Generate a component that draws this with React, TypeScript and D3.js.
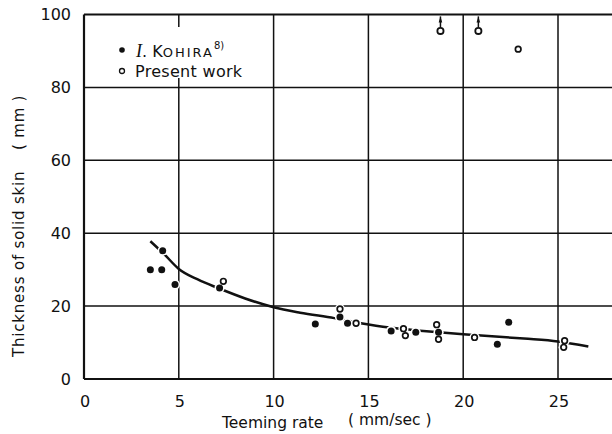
import React from "react";
import * as d3 from "d3";

const xTicks = [0, 5, 10, 15, 20, 25];
const yTicks = [0, 20, 40, 60, 80, 100];

// I. Kohira (filled dots)
const kohiraX = [3.5, 4.1, 4.15, 4.8, 7.15, 12.2, 13.5, 13.9, 16.2, 17.5, 18.7, 21.8, 22.4];
const kohiraY = [30, 30, 35.2, 25.9, 25, 15.1, 17, 15.3, 13.2, 12.8, 12.8, 9.5, 15.6];

// Present work (open circles)
const presentX = [7.35, 13.5, 14.35, 16.85, 16.95, 18.6, 18.7, 20.6, 25.35, 25.3, 22.9];
const presentY = [26.8, 19.2, 15.3, 13.8, 11.9, 14.9, 10.9, 11.4, 10.5, 8.7, 90.5];

// Present work, values above the shown point (arrow up)
const arrowX = [18.8, 20.8];
const arrowY = [95.5, 95.5];

// Fitted curve
const curveX = [3.5, 4.2, 5, 6, 7.1, 8.5, 10, 11.4, 13.2, 14.6, 16.1, 17.9, 20, 23.2, 25, 26.6];
const curveY = [37.8, 34.4, 30.2, 27.3, 24.9, 22.1, 19.7, 18.2, 16.7, 15.3, 14.1, 13.2, 12.3, 11.1, 10.3, 8.9];

const W = 612;
const H = 434;
const ink = "#111";

export default function App() {
  const x = d3.scaleLinear().domain([0, 25]).range([84, 558]);
  const y = d3.scaleLinear().domain([0, 100]).range([379, 14.5]);
  const right = W;

  const curvePts = curveX.map((v, i) => [v, curveY[i]] as [number, number]);
  const line = d3
    .line<[number, number]>()
    .x((d) => x(d[0]))
    .y((d) => y(d[1]))
    .curve(d3.curveMonotoneX);

  const kohira = kohiraX.map((v, i) => [v, kohiraY[i]]);
  const present = presentX.map((v, i) => [v, presentY[i]]);
  const arrows = arrowX.map((v, i) => [v, arrowY[i]]);

  const font = "'DejaVu Sans', sans-serif";
  const r = 3.5;

  return (
    <div style={{ position: "absolute", left: 0, top: 0 }}>
      <svg width={W} height={H} style={{ display: "block", background: "#fff" }}>
        <rect x={0} y={0} width={W} height={H} fill="#fff" />
        {/* horizontal grid lines */}
        {yTicks.map((t) => (
          <line
            key={"h" + t}
            x1={x(0)}
            x2={right}
            y1={y(t)}
            y2={y(t)}
            stroke={ink}
            strokeWidth={t === 0 || t === 100 ? 2 : 1.5}
          />
        ))}
        {/* vertical grid lines */}
        {xTicks.map((t) => (
          <line
            key={"v" + t}
            x1={x(t)}
            x2={x(t)}
            y1={y(100)}
            y2={y(0)}
            stroke={ink}
            strokeWidth={t === 0 ? 2.2 : 1.5}
          />
        ))}
        {/* legend background */}
        <rect x={100} y={27} width={150} height={51} fill="#fff" />
        {/* y tick labels */}
        {yTicks.map((t) => (
          <text
            key={"yl" + t}
            x={71}
            y={y(t) + 5.5}
            textAnchor="end"
            fontFamily={font}
            fontSize={16}
            fill={ink}
          >
            {t}
          </text>
        ))}
        {/* x tick labels */}
        {xTicks.map((t) => (
          <text
            key={"xl" + t}
            x={x(t) + 1}
            y={407}
            textAnchor="middle"
            fontFamily={font}
            fontSize={16}
            fill={ink}
          >
            {t}
          </text>
        ))}
        {/* axis titles */}
        <text x={222} y={428} fontFamily={font} fontSize={15.5} fill={ink}>
          Teeming rate
        </text>
        <text x={348} y={425} fontFamily={font} fontSize={15.5} fill={ink}>
          ( mm/sec )
        </text>
        <text
          transform={`translate(24, ${357}) rotate(-90)`}
          fontFamily={font}
          fontSize={15}
          fill={ink}
          letterSpacing={0.8}
        >
          Thickness of solid skin
        </text>
        <text
          transform={`translate(24, ${150}) rotate(-90)`}
          fontFamily={font}
          fontSize={15}
          fill={ink}
          letterSpacing={0.8}
        >
          ( mm )
        </text>
        {/* curve */}
        <path d={line(curvePts) || ""} fill="none" stroke={ink} strokeWidth={2.5} />
        {/* halos to break the curve */}
        {[...kohira, ...present].map((p, i) => (
          <circle key={"halo" + i} cx={x(p[0])} cy={y(p[1])} r={r + 1.6} fill="#fff" />
        ))}
        {kohira.map((p, i) => (
          <circle key={"k" + i} cx={x(p[0])} cy={y(p[1])} r={r} fill={ink} />
        ))}
        {present.map((p, i) => (
          <circle
            key={"p" + i}
            cx={x(p[0])}
            cy={y(p[1])}
            r={r - 0.7}
            fill="#fff"
            stroke={ink}
            strokeWidth={1.7}
          />
        ))}
        {arrows.map((p, i) => {
          const cx = x(p[0]);
          const cy = y(p[1]);
          return (
            <g key={"a" + i}>
              <circle cx={cx} cy={cy} r={r - 0.4} fill="#fff" stroke={ink} strokeWidth={1.8} />
              <line x1={cx} x2={cx} y1={cy - r} y2={cy - r - 11} stroke={ink} strokeWidth={1.5} />
              <path
                d={`M${cx},${cy - r - 11} L${cx - 1.8},${cy - r - 5} L${cx + 1.8},${cy - r - 5} Z`}
                fill={ink}
              />
            </g>
          );
        })}
        {/* legend */}
        <circle cx={122} cy={50} r={2.8} fill={ink} />
        <circle cx={122} cy={71} r={2.5} fill="#fff" stroke={ink} strokeWidth={1.3} />
        <text x={136} y={57} fontFamily={font} fontSize={16} fill={ink}>
          <tspan fontFamily="'Liberation Serif', serif" fontStyle="italic" fontSize={18}>
            I
          </tspan>
          <tspan>. K</tspan>
          <tspan fontSize={13} letterSpacing={2}>
            OHIRA
          </tspan>
          <tspan fontSize={10} dy={-8}>
            8)
          </tspan>
        </text>
        <text x={135} y={77} fontFamily={font} fontSize={16} fill={ink} letterSpacing={0.3}>
          Present work
        </text>
      </svg>
    </div>
  );
}
